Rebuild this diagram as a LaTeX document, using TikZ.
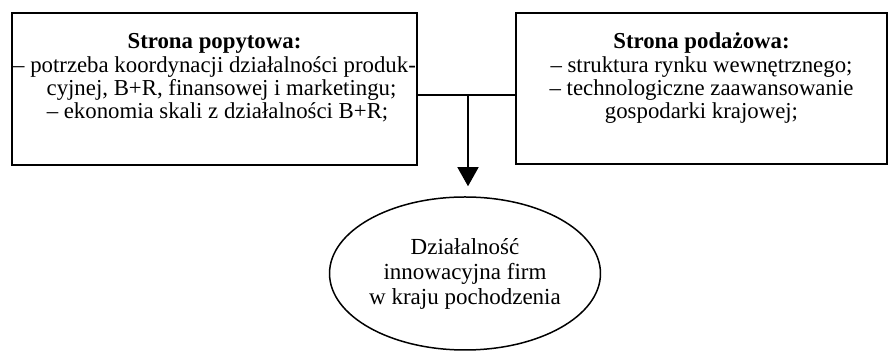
\documentclass[tikz,border=0pt]{standalone}
\usepackage{fontspec}
\setmainfont{Liberation Serif}
\usetikzlibrary{arrows.meta,shapes.geometric}
\begin{document}
\begin{tikzpicture}[x=1pt,y=1pt,
  boxnode/.style={draw,line width=1.8pt,inner sep=0pt,align=center,
    font=\fontsize{22.8}{23.4}\selectfont},
  ellnode/.style={draw,ellipse,line width=1.5pt,inner sep=0pt,align=center,
    minimum width=245pt,minimum height=153pt,font=\fontsize{23}{25}\selectfont},
  conn/.style={line width=1.3pt},
  arr/.style={line width=1.3pt,-{Triangle[width=21pt,length=19pt]}}]
\useasboundingbox (0,0) rectangle (891,352);
\node[boxnode,minimum width=405pt,minimum height=152pt] (left) at (214.5,263)
  {\textbf{Strona popytowa:}\\
   – potrzeba koordynacji działalności produk-\\
   \hspace*{14pt}cyjnej, B+R, finansowej i marketingu;\\
   \hspace*{6pt}– ekonomia skali z działalności B+R;\\[2pt]};
\node[boxnode,minimum width=371pt,minimum height=151pt] (right) at (701.5,263.5)
  {\textbf{Strona podażowa:}\\
   – struktura rynku wewnętrznego;\\
   – technologiczne zaawansowanie\\
   gospodarki krajowej;\\[2pt]};
\node[ellnode] (ell) at (465,78.5)
  {Działalność\\innowacyjna firm\\w kraju pochodzenia};
\coordinate (j) at (468,257);
\draw[conn] (left.east |- j) -- (right.west |- j);
\draw[arr,shorten >=10pt] (j) -- (j |- ell.north);
\end{tikzpicture}
\end{document}
